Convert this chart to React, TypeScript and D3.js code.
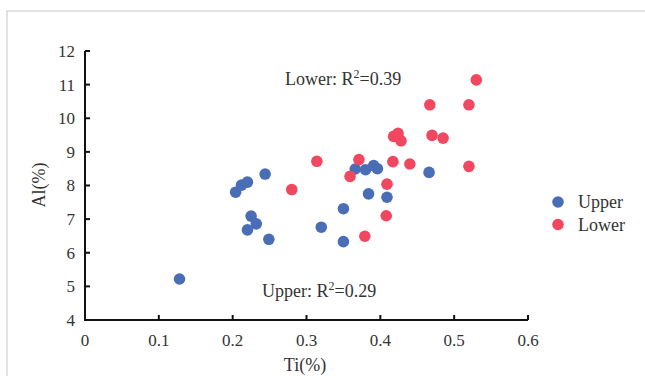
import React from "react";
import * as d3 from "d3";

// Ti(%) vs Al(%) samples
const upperTi = [0.128, 0.204, 0.212, 0.22, 0.244, 0.225, 0.232, 0.22, 0.249, 0.32, 0.35, 0.35, 0.366, 0.38, 0.391, 0.396, 0.384, 0.409, 0.466];
const upperAl = [5.22, 7.8, 8.01, 8.1, 8.34, 7.09, 6.86, 6.68, 6.4, 6.76, 7.31, 6.33, 8.49, 8.47, 8.59, 8.5, 7.75, 7.65, 8.39];
const lowerTi = [0.28, 0.314, 0.359, 0.371, 0.379, 0.409, 0.408, 0.417, 0.44, 0.418, 0.424, 0.428, 0.467, 0.47, 0.485, 0.52, 0.53, 0.52];
const lowerAl = [7.88, 8.72, 8.27, 8.77, 6.49, 8.04, 7.1, 8.71, 8.64, 9.46, 9.55, 9.33, 10.4, 9.49, 9.41, 10.4, 11.14, 8.57];
const xTicks = [0, 0.1, 0.2, 0.3, 0.4, 0.5, 0.6];
const yTicks = [4, 5, 6, 7, 8, 9, 10, 11, 12];

const seriesNames = ["Upper", "Lower"];
const colors = ["#4a6eb5", "#f24761"];

const font = "'Liberation Serif', 'Times New Roman', serif";

export default function App() {
  const width = 645;
  const height = 376;
  const x = d3.scaleLinear().domain([0, 0.6]).range([85, 528]);
  const y = d3.scaleLinear().domain([4, 12]).range([320, 51]);

  const series = [
    upperTi.map((t, i) => [t, upperAl[i]]),
    lowerTi.map((t, i) => [t, lowerAl[i]]),
  ];

  return (
    <div style={{ position: "fixed", left: 0, top: 0 }}>
      <svg width={width} height={height} style={{ display: "block", background: "#fff" }} fontFamily={font}>
        <rect x={7} y={11} width={700} height={400} fill="none" stroke="#c8c8c8" strokeWidth={1} />

        {/* axes */}
        <path
          d={`M${x(0)},${y(12)}V${y(4)}H${x(0.6)}`}
          fill="none"
          stroke="#111"
          strokeWidth={2}
        />
        {yTicks.map(t => (
          <g key={"y" + t}>
            <line x1={x(0)} x2={x(0) + 5} y1={y(t)} y2={y(t)} stroke="#111" strokeWidth={2} />
            <text x={x(0) - 10} y={y(t)} dy="0.35em" textAnchor="end" fontSize={17} fill="#333">
              {t}
            </text>
          </g>
        ))}
        {xTicks.map(t => (
          <g key={"x" + t}>
            <line x1={x(t)} x2={x(t)} y1={y(4)} y2={y(4) - 5} stroke="#111" strokeWidth={2} />
            <text x={x(t)} y={346} textAnchor="middle" fontSize={17} fill="#333">
              {t === 0 ? "0" : d3.format(".1f")(t)}
            </text>
          </g>
        ))}

        <text x={305} y={371} textAnchor="middle" fontSize={18} fill="#333">Ti(%)</text>
        <text transform="translate(45,185) rotate(-90)" textAnchor="middle" fontSize={18} fill="#333">Al(%)</text>

        {/* points */}
        {series.map((pts, s) =>
          pts.map((p, i) => (
            <circle key={s + "-" + i} cx={x(p[0])} cy={y(p[1])} r={5.8} fill={colors[s]} />
          ))
        )}

        {/* annotations */}
        <text x={285} y={85} fontSize={18} fill="#333">
          Lower: R<tspan dy={-7} fontSize={12}>2</tspan><tspan dy={7}>=0.39</tspan>
        </text>
        <text x={262} y={297} fontSize={18} fill="#333">
          Upper: R<tspan dy={-7} fontSize={12}>2</tspan><tspan dy={7}>=0.29</tspan>
        </text>

        {/* legend */}
        {seriesNames.map((n, i) => (
          <g key={n}>
            <circle cx={558} cy={202 + i * 22.5} r={5.8} fill={colors[i]} />
            <text x={578} y={208 + i * 23} fontSize={18} fill="#333">{n}</text>
          </g>
        ))}
      </svg>
    </div>
  );
}
